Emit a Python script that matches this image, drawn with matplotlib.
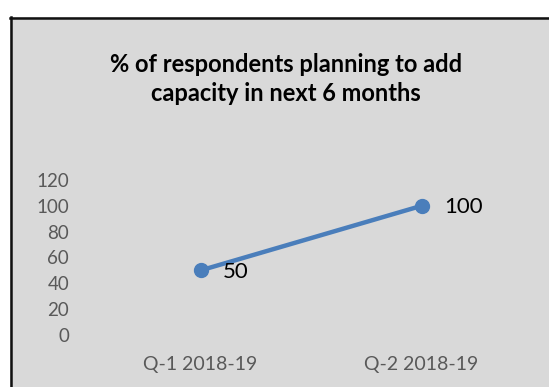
import matplotlib.pyplot as plt
from matplotlib.patches import Rectangle
from matplotlib.lines import Line2D

categories = ["Q-1 2018-19", "Q-2 2018-19"]
values = [50, 100]
y_ticks = [0, 20, 40, 60, 80, 100, 120]
title = "% of respondents planning to add\ncapacity in next 6 months"

W, H = 549, 387
fig = plt.figure(figsize=(W / 100, H / 100), dpi=100)
fig.patch.set_facecolor("white")

font = "Lato"
bg = "#d9d9d9"
grey = "#595959"
blue = "#4a7ebb"

# background panel with dark top/left edge
bg_ax = fig.add_axes([0, 0, 1, 1], zorder=-1)
bg_ax.set_xlim(0, W)
bg_ax.set_ylim(H, 0)
bg_ax.axis("off")
bg_ax.add_patch(Rectangle((10, 17), W - 10, H - 17, facecolor=bg, edgecolor="none"))
bg_ax.add_line(Line2D([11, 11], [17, H], color="#111111", lw=1.8))
bg_ax.add_line(Line2D([10, W], [18, 18], color="#111111", lw=1.8))

left, right = 90, 532
bottom_px, top_px = 335, 180
ax = fig.add_axes([left / W, 1 - bottom_px / H, (right - left) / W,
                   (bottom_px - top_px) / H])
ax.set_facecolor("none")
x = list(range(len(categories)))
ax.plot(x, values, color=blue, lw=3.2, marker="o", markersize=10,
        solid_capstyle="round", zorder=3, clip_on=False)
for xi, v in zip(x, values):
    ax.annotate(str(v), (xi, v), xytext=(16, -1), textcoords="offset points",
                ha="left", va="center", fontsize=16, family=font, color="black")

ax.set_xlim(-0.5, len(categories) - 0.5)
ax.set_ylim(0, 120)
ax.set_yticks(y_ticks)
ax.set_yticklabels([str(t) for t in y_ticks], family=font, fontsize=13.5, color=grey)
ax.set_xticks(x)
ax.set_xticklabels(categories, family=font, fontsize=14, color=grey)
ax.tick_params(length=0, axis="y", pad=15)
ax.tick_params(length=0, axis="x", pad=15)
for s in ax.spines.values():
    s.set_visible(False)

fig.text(286 / W, 1 - 79 / H, title, ha="center", va="center", fontsize=17,
         fontweight="bold", family=font, color="black", linespacing=1.3)

fig.savefig("out.png", dpi=100, facecolor=fig.get_facecolor())
